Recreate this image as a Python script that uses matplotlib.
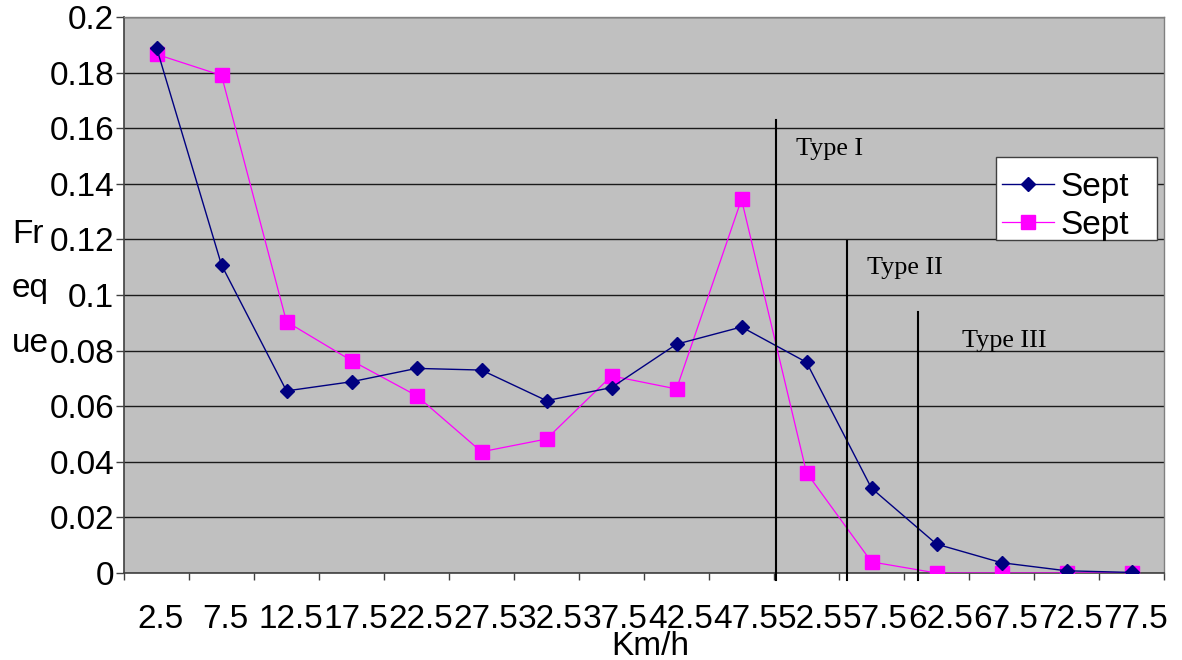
import matplotlib
matplotlib.use("Agg")
import matplotlib.pyplot as plt
from matplotlib.patches import Rectangle
import matplotlib.transforms as mtransforms
import numpy as np

categories = ["2.5", "7.5", "12.5", "17.5", "22.5", "27.5", "32.5", "37.5",
              "42.5", "47.5", "52.5", "57.5", "62.5", "67.5", "72.5", "77.5"]
sept_a = [0.189, 0.1108, 0.0655, 0.0688, 0.0736, 0.0730, 0.0620, 0.0667,
          0.0823, 0.0885, 0.0758, 0.0305, 0.0104, 0.0037, 0.0008, 0.0002]
sept_b = [0.1866, 0.1790, 0.0904, 0.0764, 0.0638, 0.0436, 0.0482, 0.0709,
          0.0662, 0.1344, 0.0361, 0.0040, 0.0, 0.0, 0.0, 0.0]
series_names = ["Sept", "Sept"]

# type boundaries (in category-index units) and their heights
type_labels = ["Type I", "Type II", "Type III"]
type_x = [9.53, 10.63, 11.72]
type_top = [0.163, 0.1194, 0.0938]
type_text_x = [9.84, 10.93, 12.39]
type_text_y = [0.1504, 0.1076, 0.0814]

plt.rcParams['font.family'] = ['Liberation Sans', 'DejaVu Sans']
FS = 24

W, H = 1182, 660
fig = plt.figure(figsize=(W / 100, H / 100), dpi=100)
ax = fig.add_axes([124 / W, (H - 573) / H, 1040 / W, 556 / H])
ax.set_facecolor('#C0C0C0')

x = np.arange(len(categories))
ax.plot(x, sept_a, color='#000080', lw=1.0, marker='D', markersize=6.8,
        markerfacecolor='#000080', markeredgecolor='#000080', label=series_names[0], zorder=4)
ax.plot(x, sept_b, color='#FF00FF', lw=0.9, marker='s', markersize=9.5,
        markerfacecolor='#FF00FF', markeredgecolor='#FF00FF', label=series_names[1], zorder=3)

ax.set_xlim(-0.5, len(categories) - 0.5)
ax.set_ylim(0, 0.2)
ax.set_yticks(np.arange(0, 0.2001, 0.02))
ax.set_yticklabels(["0", "0.02", "0.04", "0.06", "0.08", "0.1", "0.12", "0.14",
                    "0.16", "0.18", "0.2"])
ax.yaxis.grid(True, color='#1a1a1a', lw=1.0)
ax.set_axisbelow(True)

ax.set_xticks(x)
ax.set_xticklabels(categories)
ax.set_xticks(np.arange(-0.5, len(categories)), minor=True)
ax.tick_params(axis='x', which='major', length=0, pad=22, labelsize=FS)
ax.tick_params(axis='x', which='minor', length=5, width=1, color='#404040', direction='out')
ax.tick_params(axis='y', which='major', length=6, width=1, color='#404040', pad=1, labelsize=FS)
shift = mtransforms.ScaledTranslation(4 / 100, 0, fig.dpi_scale_trans)
for lbl in ax.get_xticklabels():
    lbl.set_transform(lbl.get_transform() + shift)

for s in ['left', 'bottom']:
    ax.spines[s].set_color('#404040')
    ax.spines[s].set_linewidth(1.2)
for s in ['top', 'right']:
    ax.spines[s].set_color('#808080')
    ax.spines[s].set_linewidth(1.0)

for tx, tt, lab, lx, ly in zip(type_x, type_top, type_labels, type_text_x, type_text_y):
    ax.plot([tx, tx], [-0.0025, tt], color='black', lw=1.5, clip_on=False, zorder=5)
    ax.text(lx, ly, lab, family=['Liberation Serif', 'DejaVu Serif'], fontsize=18.8,
            va='baseline', ha='left', color='black')

# legend box
box = Rectangle((996 / W, 1 - 240 / H), (1157 - 996) / W, (240 - 157) / H,
                transform=fig.transFigure, facecolor='white', edgecolor='#404040',
                lw=1.0, zorder=6, clip_on=False)
ax.add_patch(box)
leg = ax.legend(loc='center left', bbox_to_anchor=(1002 / W, 1 - 206.5 / H),
                bbox_transform=fig.transFigure, fontsize=FS, frameon=False,
                borderpad=0.0, labelspacing=0.2,
                handlelength=1.55, handletextpad=0.2, borderaxespad=0)
leg.set_zorder(7)

for txt, yb in [("Fr", 243), ("eq", 297), ("ue", 352)]:
    fig.text(12 / W, 1 - yb / H, txt, fontsize=FS, ha='left', va='baseline')

fig.text(650 / W, 1 - 655 / H, "Km/h", fontsize=FS, ha='center', va='baseline')

fig.savefig("out.png", dpi=100)
